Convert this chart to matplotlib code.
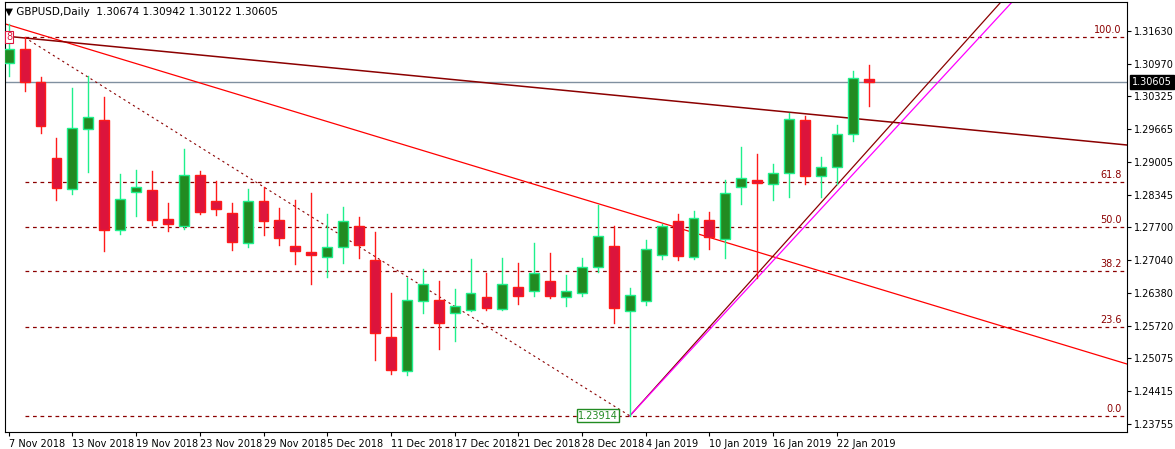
import matplotlib
matplotlib.use("Agg")
import matplotlib.pyplot as plt
from matplotlib.patches import Rectangle

dates = ["7 Nov 2018", "13 Nov 2018", "19 Nov 2018", "23 Nov 2018", "29 Nov 2018", "5 Dec 2018",
         "11 Dec 2018", "17 Dec 2018", "21 Dec 2018", "28 Dec 2018", "4 Jan 2019", "10 Jan 2019",
         "16 Jan 2019", "22 Jan 2019"]
opens = [1.3099, 1.3126, 1.3060, 1.2909, 1.2846, 1.2966, 1.2985, 1.2763, 1.2840, 1.2844, 1.2786,
         1.2772, 1.2874, 1.2823, 1.2798, 1.2738, 1.2823, 1.2784, 1.2732, 1.2720, 1.2710, 1.2730,
         1.2772, 1.2703, 1.2550, 1.2481, 1.2622, 1.2624, 1.2598, 1.2604, 1.2629, 1.2606, 1.2650,
         1.2642, 1.2662, 1.2630, 1.2638, 1.2690, 1.2732, 1.2602, 1.2622, 1.2714, 1.2781, 1.2710,
         1.2784, 1.2746, 1.2851, 1.2865, 1.2856, 1.2878, 1.2984, 1.2872, 1.2890, 1.2957, 1.30674]
highs = [1.3177, 1.3150, 1.3071, 1.2948, 1.3049, 1.3072, 1.3030, 1.2877, 1.2885, 1.2883, 1.2819,
         1.2927, 1.2883, 1.2862, 1.2819, 1.2846, 1.2851, 1.2809, 1.2825, 1.2838, 1.2797, 1.2810,
         1.2789, 1.2760, 1.2637, 1.2668, 1.2685, 1.2661, 1.2645, 1.2705, 1.2678, 1.2707, 1.2697,
         1.2737, 1.2717, 1.2673, 1.2707, 1.2814, 1.2772, 1.2647, 1.2743, 1.2775, 1.2797, 1.2803,
         1.2801, 1.2865, 1.2931, 1.2916, 1.2897, 1.2999, 1.2992, 1.2911, 1.2975, 1.3083, 1.30942]
lows = [1.3073, 1.3043, 1.2958, 1.2825, 1.2836, 1.2880, 1.2722, 1.2756, 1.2792, 1.2773, 1.2762,
        1.2766, 1.2796, 1.2794, 1.2724, 1.2729, 1.2753, 1.2733, 1.2696, 1.2656, 1.2669, 1.2698,
        1.2708, 1.2504, 1.2476, 1.2474, 1.2598, 1.2525, 1.2541, 1.2602, 1.2604, 1.2604, 1.2615,
        1.2632, 1.2628, 1.2611, 1.2632, 1.2679, 1.2578, 1.23914, 1.2614, 1.2706, 1.2704, 1.2706,
        1.2726, 1.2708, 1.2816, 1.2668, 1.2824, 1.2830, 1.2856, 1.2830, 1.2856, 1.2942, 1.30122]
closes = [1.3127, 1.3060, 1.2972, 1.2848, 1.2968, 1.2990, 1.2764, 1.2826, 1.2850, 1.2784, 1.2776,
          1.2874, 1.2800, 1.2806, 1.2740, 1.2823, 1.2782, 1.2748, 1.2722, 1.2714, 1.2730, 1.2782,
          1.2734, 1.2558, 1.2484, 1.2624, 1.2656, 1.2578, 1.2612, 1.2638, 1.2608, 1.2656, 1.2632,
          1.2677, 1.2632, 1.2642, 1.2690, 1.2752, 1.2608, 1.2634, 1.2726, 1.2772, 1.2712, 1.2788,
          1.2749, 1.2838, 1.2868, 1.2859, 1.2878, 1.2986, 1.2872, 1.2890, 1.2956, 1.3068, 1.30605]
yticks = [1.31630, 1.30970, 1.30325, 1.29665, 1.29005, 1.28345, 1.27700, 1.27040, 1.26380,
          1.25720, 1.25075, 1.24415, 1.23755]
fib_high, fib_low = 1.3150, 1.23914
fib_levels = [100.0, 61.8, 50.0, 38.2, 23.6, 0.0]
last_price = 1.30605

fig = plt.figure(figsize=(11.75, 4.49), dpi=100)
ax = fig.add_axes([0.004, 17/449, 1122/1175, 430/449])
ax.set_xlim(-0.25, 70.2)
ax.set_ylim(1.2359, 1.3221)

for i, (o, h, l, c) in enumerate(zip(opens, highs, lows, closes)):
    up = c >= o
    wc = "#1EF08C" if up else "#FF1A1A"
    ax.plot([i, i], [l, h], color=wc, lw=1, zorder=3)
    ax.add_patch(Rectangle((i - 0.31, min(o, c)), 0.62, max(abs(c - o), 0.00006),
                           facecolor="#228B22" if up else "#DC143C",
                           edgecolor="#1EF08C" if up else "#FF1A1A", lw=1, zorder=4))

for lv in fib_levels:
    p = fib_low + (fib_high - fib_low) * lv / 100
    ax.plot([1, 70.2], [p, p], color="#8B0000", lw=0.9, ls=(0, (3, 3)), zorder=2)
    ax.text(69.9, p + 0.0004, f"{lv:.1f}", ha="right", va="bottom", fontsize=7, color="#8B0000")

ax.plot([1, 39], [fib_high, fib_low], color="#8B0000", lw=0.8, ls=(0, (2, 3)), zorder=2)
ax.axhline(last_price, color="#8090A0", lw=1, zorder=1)
ax.plot([-0.25, 70.2], [1.3175 + 0.25 * 0.000968, 1.3175 - 70.2 * 0.000968], color="#FF0000", lw=0.9, zorder=2)
ax.plot([-0.25, 70.2], [1.3152 + 0.25 * 0.000310, 1.3152 - 70.2 * 0.000310], color="#8B0000", lw=1.1, zorder=2)
ax.plot([39, 63], [fib_low, fib_low + 24 * 0.00356], color="#8B0000", lw=0.9, zorder=2)
ax.plot([39, 63], [fib_low, fib_low + 24 * 0.003456], color="#FF00FF", lw=0.9, zorder=2)

ax.text(37.0, fib_low, "1.23914", fontsize=7, color="#228B22", ha="center", va="center",
        bbox=dict(boxstyle="square,pad=0.15", fc="white", ec="#228B22", lw=1), zorder=6)
ax.text(0.02, fib_high, "8", fontsize=7, color="#DC143C", ha="center", va="center",
        bbox=dict(boxstyle="square,pad=0.1", fc="white", ec="#DC143C", lw=0.8), zorder=6)

ax.yaxis.tick_right()
ax.set_yticks(yticks)
ax.set_yticklabels([f"{v:.5f}" for v in yticks], fontsize=7)
ax.set_xticks(range(0, 55, 4))
ax.set_xticklabels(dates, fontsize=7, ha="left")
ax.tick_params(length=3, pad=2)
for s in ax.spines.values():
    s.set_color("black")
ax.text(70.55, last_price, "1.30605", fontsize=7, color="white", va="center",
        ha="left", bbox=dict(boxstyle="square,pad=0.2", fc="black", ec="black"), zorder=7,
        clip_on=False)
fig.text(0.004, 0.985, "\u25BC GBPUSD,Daily  1.30674 1.30942 1.30122 1.30605", fontsize=7.5,
         va="top", ha="left")
fig.savefig("out.png", dpi=100)
